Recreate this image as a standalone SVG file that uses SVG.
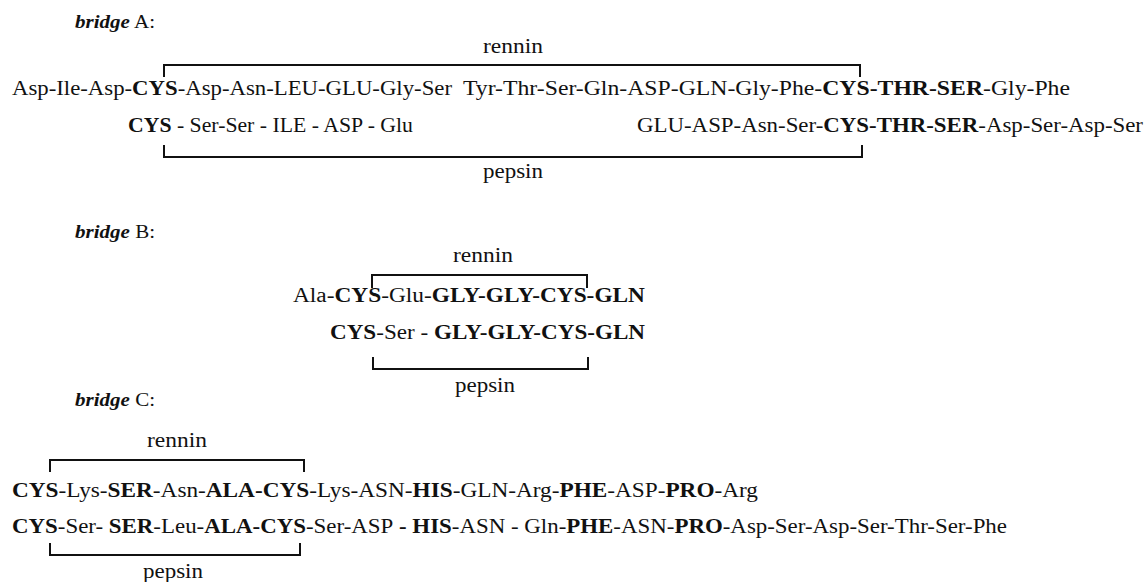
<svg xmlns="http://www.w3.org/2000/svg" width="1147" height="582" viewBox="0 0 1147 582" font-family="'Liberation Serif', 'DejaVu Serif', serif">
<style>
text{font-family:"Liberation Serif","DejaVu Serif",serif;font-size:20px;fill:#111}
.b{font-weight:bold}
.i{font-style:italic;font-weight:bold}
.lbl{font-size:18px}
.br{fill:none;stroke:#111;stroke-width:2}
</style>
<rect width="1147" height="582" fill="#fff"/>
<g id="bridgeA">
<text class="lbl" x="75" y="28" textLength="80" lengthAdjust="spacingAndGlyphs"><tspan class="i">bridge</tspan> A:</text>
<text x="483" y="53" textLength="60" lengthAdjust="spacingAndGlyphs">rennin</text>
<text x="12" y="95" textLength="440" lengthAdjust="spacingAndGlyphs">Asp-Ile-Asp-<tspan class="b">CYS</tspan>-Asp-Asn-LEU-GLU-Gly-Ser</text>
<text x="463" y="95" textLength="607" lengthAdjust="spacingAndGlyphs">Tyr-Thr-Ser-Gln-ASP-GLN-Gly-Phe-<tspan class="b">CYS-THR-SER</tspan>-Gly-Phe</text>
<text x="128" y="132" textLength="285" lengthAdjust="spacingAndGlyphs"><tspan class="b">CYS</tspan> - Ser-Ser - ILE - ASP - Glu</text>
<text x="637" y="132" textLength="506" lengthAdjust="spacingAndGlyphs">GLU-ASP-Asn-Ser-<tspan class="b">CYS-THR-SER</tspan>-Asp-Ser-Asp-Ser</text>
<text x="483" y="178" textLength="60" lengthAdjust="spacingAndGlyphs">pepsin</text>
</g>
<g id="bridgeB">
<text class="lbl" x="75" y="238" textLength="80" lengthAdjust="spacingAndGlyphs"><tspan class="i">bridge</tspan> B:</text>
<text x="453" y="262" textLength="60" lengthAdjust="spacingAndGlyphs">rennin</text>
<text x="293" y="302" textLength="352" lengthAdjust="spacingAndGlyphs">Ala-<tspan class="b">CYS</tspan>-Glu-<tspan class="b">GLY-GLY-CYS-GLN</tspan></text>
<text x="330" y="339" textLength="315" lengthAdjust="spacingAndGlyphs"><tspan class="b">CYS</tspan>-Ser - <tspan class="b">GLY-GLY-CYS-GLN</tspan></text>
<text x="455" y="392" textLength="60" lengthAdjust="spacingAndGlyphs">pepsin</text>
</g>
<g id="bridgeC">
<text class="lbl" x="75" y="406" textLength="80" lengthAdjust="spacingAndGlyphs"><tspan class="i">bridge</tspan> C:</text>
<text x="147" y="447" textLength="60" lengthAdjust="spacingAndGlyphs">rennin</text>
<text x="12" y="497" textLength="746" lengthAdjust="spacingAndGlyphs"><tspan class="b">CYS</tspan>-Lys-<tspan class="b">SER</tspan>-Asn-<tspan class="b">ALA-CYS</tspan>-Lys-ASN-<tspan class="b">HIS</tspan>-GLN-Arg-<tspan class="b">PHE</tspan>-ASP-<tspan class="b">PRO</tspan>-Arg</text>
<text x="12" y="533" textLength="995" lengthAdjust="spacingAndGlyphs"><tspan class="b">CYS</tspan>-Ser- <tspan class="b">SER</tspan>-Leu-<tspan class="b">ALA-CYS</tspan>-Ser-ASP<tspan class="b"> - HIS</tspan>-ASN - Gln-<tspan class="b">PHE</tspan>-ASN-<tspan class="b">PRO</tspan>-Asp-Ser-Asp-Ser-Thr-Ser-Phe</text>
<text x="143" y="578" textLength="60" lengthAdjust="spacingAndGlyphs">pepsin</text>
</g>
<g id="connectors">
<path class="br" d="M164,77 V65 H860 V77"/>
<path class="br" d="M164,145 V157 H862 V145"/>
<path class="br" d="M372,288 V275 H587 V288"/>
<path class="br" d="M373,357 V369 H588 V357"/>
<path class="br" d="M50,472 V460 H304 V472"/>
<path class="br" d="M50,543 V555 H300 V543"/>
</g>
</svg>
